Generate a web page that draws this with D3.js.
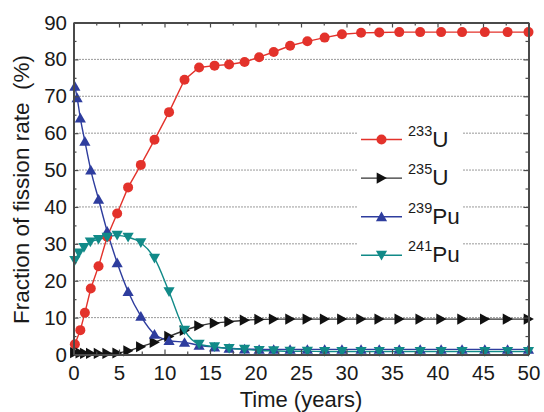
<!DOCTYPE html>
<html>
<head>
<meta charset="utf-8">
<script src="https://cdn.jsdelivr.net/npm/d3@7"></script>
<style>
  html, body { margin: 0; padding: 0; background: #fff; }
  svg { display: block; font-family: "Liberation Sans", Arial, Helvetica, sans-serif; }
</style>
</head>
<body>
<svg id="chart" width="544" height="412"></svg>
<script>
// ---- data ----
const xTicks = [0, 5, 10, 15, 20, 25, 30, 35, 40, 45, 50];
const yTicks = [0, 10, 20, 30, 40, 50, 60, 70, 80, 90];
const gridValues = [10, 20, 30, 40, 50, 60, 70, 80];

const u233Time = [0.15, 0.75, 1.25, 1.9, 2.75, 3.7, 4.8, 6.0, 7.4, 8.9, 10.5, 12.2, 13.8, 15.5, 17.1, 18.8, 20.4, 22.0, 23.8, 25.7, 27.6, 29.5, 31.6, 33.6, 35.8, 38.1, 40.4, 42.7, 45.2, 47.7, 50.0];
const u233Value = [2.8, 6.6, 11.3, 17.9, 23.9, 31.9, 38.2, 45.3, 51.4, 58.2, 65.7, 74.5, 77.8, 78.3, 78.6, 79.3, 80.6, 82.0, 83.7, 84.9, 85.9, 86.8, 87.2, 87.3, 87.4, 87.4, 87.4, 87.4, 87.4, 87.4, 87.4];

const u235Time = [0.15, 0.75, 1.25, 1.9, 2.75, 3.7, 4.8, 6.0, 7.4, 8.9, 10.5, 12.2, 13.8, 15.5, 17.1, 18.8, 20.4, 22.0, 23.8, 25.7, 27.6, 29.5, 31.6, 33.6, 35.8, 38.1, 40.4, 42.7, 45.2, 47.7, 50.0];
const u235Value = [0.5, 0.4, 0.3, 0.3, 0.3, 0.3, 0.4, 1.0, 2.1, 3.3, 4.9, 6.5, 7.8, 8.5, 8.9, 9.3, 9.5, 9.6, 9.6, 9.6, 9.6, 9.6, 9.6, 9.6, 9.6, 9.6, 9.6, 9.6, 9.6, 9.6, 9.6];

const pu239Time = [0.15, 0.4, 0.75, 1.25, 1.9, 2.75, 3.7, 4.8, 6.0, 7.4, 8.9, 10.5, 12.2, 13.8, 15.5, 17.1, 18.8, 20.4, 22.0, 23.8, 25.7, 27.6, 29.5, 31.6, 33.6, 35.8, 38.1, 40.4, 42.7, 45.2, 47.7, 50.0];
const pu239Value = [72.7, 69.6, 64.1, 57.8, 50.0, 42.1, 33.4, 24.9, 17.1, 10.4, 5.5, 3.8, 3.3, 2.5, 2.0, 1.7, 1.5, 1.4, 1.4, 1.4, 1.4, 1.4, 1.4, 1.4, 1.4, 1.4, 1.4, 1.4, 1.4, 1.4, 1.4, 1.4];

const pu241Time = [0.15, 0.6, 1.15, 1.85, 2.75, 3.7, 4.8, 6.0, 7.4, 8.9, 10.5, 12.2, 13.8, 15.5, 17.1, 18.8, 20.4, 22.0, 23.8, 25.7, 27.6, 29.5, 31.6, 33.6, 35.8, 38.1, 40.4, 42.7, 45.2, 47.7, 50.0];
const pu241Value = [25.5, 27.5, 29.0, 30.5, 31.2, 31.8, 32.3, 31.8, 30.3, 26.1, 17.0, 6.6, 2.8, 2.1, 1.6, 1.4, 1.1, 1.0, 0.9, 0.9, 0.8, 0.8, 0.8, 0.8, 0.8, 0.8, 0.8, 0.8, 0.8, 0.8, 0.8];

const seriesNames = ["233U", "235U", "239Pu", "241Pu"];

// ---- layout ----
const svg = d3.select("#chart");
const x = d3.scaleLinear().domain([0, 50]).range([73.5, 528.5]);
const y = d3.scaleLinear().domain([0, 90]).range([354.5, 22.5]);

const frameColor = "#4a4a4a";
const textColor = "#1a1a1a";

// gridlines
svg.append("g").selectAll("line").data(gridValues).join("line")
  .attr("x1", x(0)).attr("x2", x(50))
  .attr("y1", d => y(d)).attr("y2", d => y(d))
  .attr("stroke", "#333").attr("stroke-width", 1)
  .attr("stroke-dasharray", "1,2");

// legend background (breaks the gridlines)
const legendX = 358, legendY0 = 139.5, legendDy = 38.6;
svg.append("rect").attr("x", legendX).attr("y", 112).attr("width", 104).attr("height", 156).attr("fill", "#fff");

// series
const symUp = "M0,-5.2L5.6,4.5L-5.6,4.5Z";
const symDown = "M0,5.2L5.6,-4.5L-5.6,-4.5Z";
const symRight = "M5.4,0L-4.8,-5.6L-4.8,5.6Z";

const series = [
  { name: seriesNames[0], t: u233Time, v: u233Value, color: "#e3322b", lineColor: "#e3322b", marker: "circle", curve: d3.curveLinear },
  { name: seriesNames[1], t: u235Time, v: u235Value, color: "#111111", lineColor: "#333333", marker: symRight, curve: d3.curveMonotoneX },
  { name: seriesNames[2], t: pu239Time, v: pu239Value, color: "#2e3d9e", lineColor: "#2e3d9e", marker: symUp, curve: d3.curveMonotoneX },
  { name: seriesNames[3], t: pu241Time, v: pu241Value, color: "#118a88", lineColor: "#118a88", marker: symDown, curve: d3.curveMonotoneX }
];

const plot = svg.append("g");
series.forEach(s => {
  const pts = s.t.map((t, i) => [t, s.v[i]]);
  const line = d3.line().x(d => x(d[0])).y(d => y(d[1])).curve(s.curve);
  plot.append("path").attr("d", line(pts)).attr("fill", "none")
    .attr("stroke", s.lineColor).attr("stroke-width", 1.4);
});
series.forEach(s => {
  const pts = s.t.map((t, i) => [t, s.v[i]]);
  const g = plot.append("g");
  if (s.marker === "circle") {
    g.selectAll("circle").data(pts).join("circle")
      .attr("cx", d => x(d[0])).attr("cy", d => y(d[1])).attr("r", 5).attr("fill", s.color);
  } else {
    g.selectAll("path").data(pts).join("path")
      .attr("d", s.marker)
      .attr("transform", d => `translate(${x(d[0])},${y(d[1])})`)
      .attr("fill", s.color);
  }
});

// legend
series.forEach((s, i) => {
  const ly = legendY0 + i * legendDy;
  svg.append("line").attr("x1", 361).attr("x2", 402).attr("y1", ly).attr("y2", ly)
    .attr("stroke", s.lineColor).attr("stroke-width", 1.4);
  if (s.marker === "circle") {
    svg.append("circle").attr("cx", 381.5).attr("cy", ly).attr("r", 5).attr("fill", s.color);
  } else {
    svg.append("path").attr("d", s.marker).attr("transform", `translate(381.5,${ly})`).attr("fill", s.color);
  }
  const m = s.name.match(/^(\d+)(\D+)$/);
  const t = svg.append("text").attr("x", 408).attr("y", ly + 7).attr("fill", textColor);
  t.append("tspan").attr("font-size", 14.5).attr("dy", -11).text(m[1]);
  t.append("tspan").attr("font-size", 22.5).attr("dy", 11).text(m[2]);
});

// axes
function styleAxis(g) {
  g.select(".domain").attr("stroke", frameColor).attr("stroke-width", 2);
  g.selectAll(".tick line").attr("stroke", frameColor).attr("stroke-width", 1.2);
  g.selectAll(".tick text").attr("fill", textColor).attr("font-size", 20.5)
    .attr("font-family", "Liberation Sans, Arial, sans-serif");
}
const minorX = d3.range(2.5, 50, 5);
const minorY = d3.range(5, 90, 10);

// bottom
svg.append("g").attr("transform", `translate(0,${y(0)})`)
  .call(d3.axisBottom(x).tickValues(minorX).tickSizeInner(-3).tickSizeOuter(0).tickFormat(""))
  .call(styleAxis);
svg.append("g").attr("transform", `translate(0,${y(0)})`)
  .call(d3.axisBottom(x).tickValues(xTicks).tickSizeInner(-5).tickSizeOuter(0).tickPadding(11).tickFormat(d3.format("d")))
  .call(styleAxis);
// top
svg.append("g").attr("transform", `translate(0,${y(90)})`)
  .call(d3.axisTop(x).tickValues(minorX).tickSizeInner(-3).tickSizeOuter(0).tickFormat(""))
  .call(styleAxis);
svg.append("g").attr("transform", `translate(0,${y(90)})`)
  .call(d3.axisTop(x).tickValues(xTicks).tickSizeInner(-5).tickSizeOuter(0).tickFormat(""))
  .call(styleAxis);
// left
svg.append("g").attr("transform", `translate(${x(0)},0)`)
  .call(d3.axisLeft(y).tickValues(minorY).tickSizeInner(-3).tickSizeOuter(0).tickFormat(""))
  .call(styleAxis);
svg.append("g").attr("transform", `translate(${x(0)},0)`)
  .call(d3.axisLeft(y).tickValues(yTicks).tickSizeInner(-5).tickSizeOuter(0).tickPadding(6.5).tickFormat(d3.format("d")))
  .call(styleAxis);
// right
svg.append("g").attr("transform", `translate(${x(50)},0)`)
  .call(d3.axisRight(y).tickValues(minorY).tickSizeInner(-3).tickSizeOuter(0).tickFormat(""))
  .call(styleAxis);
svg.append("g").attr("transform", `translate(${x(50)},0)`)
  .call(d3.axisRight(y).tickValues(yTicks).tickSizeInner(-5).tickSizeOuter(0).tickFormat(""))
  .call(styleAxis);

// axis titles
svg.append("text").attr("x", (x(0) + x(50)) / 2).attr("y", 407)
  .attr("text-anchor", "middle").attr("font-size", 22).attr("fill", textColor)
  .text("Time (years)");
svg.append("text")
  .attr("transform", `translate(28.5,${(y(0) + y(90)) / 2 + 1}) rotate(-90)`)
  .attr("text-anchor", "middle").attr("font-size", 22.5).attr("fill", textColor)
  .style("white-space", "pre")
  .text("Fraction of fission rate  (%)");
</script>
</body>
</html>
